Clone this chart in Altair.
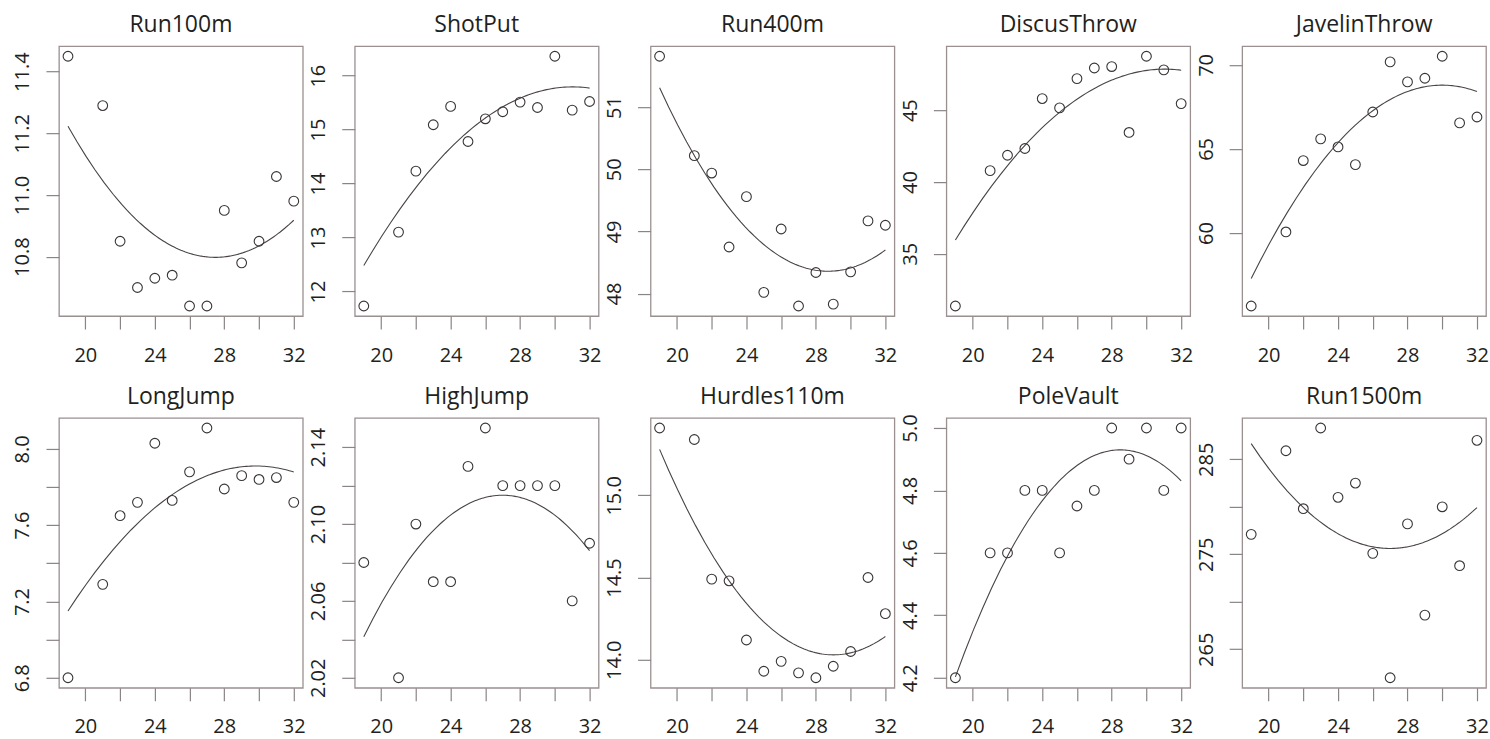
import altair as alt
import pandas as pd

ages = [19, 21, 22, 23, 24, 25, 26, 27, 28, 29, 30, 31, 32]

events = ["Run100m", "ShotPut", "Run400m", "DiscusThrow", "JavelinThrow",
          "LongJump", "HighJump", "Hurdles110m", "PoleVault", "Run1500m"]

# observed values (circles)
run100m = [11.45, 11.29, 10.85, 10.70, 10.73, 10.74, 10.64, 10.64, 10.95, 10.78, 10.85, 11.06, 10.98]
shotput = [11.73, 13.10, 14.23, 15.09, 15.43, 14.78, 15.20, 15.33, 15.51, 15.41, 16.36, 15.36, 15.52]
run400m = [51.82, 50.22, 49.94, 48.75, 49.56, 48.02, 49.04, 47.80, 48.34, 47.83, 48.35, 49.17, 49.10]
discus = [31.36, 40.79, 41.86, 42.33, 45.81, 45.16, 47.20, 47.94, 48.04, 43.45, 48.76, 47.81, 45.46]
javelin = [55.65, 60.06, 64.31, 65.60, 65.12, 64.07, 67.20, 70.18, 68.99, 69.21, 70.52, 66.55, 66.90]
longjump = [6.80, 7.29, 7.65, 7.72, 8.03, 7.73, 7.88, 8.11, 7.79, 7.86, 7.84, 7.85, 7.72]
highjump = [2.08, 2.02, 2.10, 2.07, 2.07, 2.13, 2.15, 2.12, 2.12, 2.12, 2.12, 2.06, 2.09]
hurdles = [15.41, 15.34, 14.49, 14.48, 14.12, 13.93, 13.99, 13.92, 13.89, 13.96, 14.05, 14.50, 14.28]
polevault = [4.20, 4.60, 4.60, 4.80, 4.80, 4.60, 4.75, 4.80, 5.00, 4.90, 5.00, 4.80, 5.00]
run1500m = [277.1, 285.9, 279.8, 288.3, 281.0, 282.5, 275.1, 262.0, 278.2, 268.6, 280.0, 273.8, 287.0]

series = [run100m, shotput, run400m, discus, javelin,
          longjump, highjump, hurdles, polevault, run1500m]

# fitted curve at these ages
curve_ages = [19, 21, 23, 25, 27, 29, 31, 32]
fit_run100m = [11.22, 11.05, 10.92, 10.83, 10.80, 10.81, 10.87, 10.92]
fit_shotput = [12.48, 13.49, 14.32, 14.96, 15.42, 15.70, 15.79, 15.77]
fit_run400m = [51.31, 50.22, 49.38, 48.79, 48.45, 48.36, 48.53, 48.70]
fit_discus = [35.95, 39.60, 42.50, 44.90, 46.50, 47.50, 47.85, 47.80]
fit_javelin = [57.28, 61.09, 64.14, 66.42, 67.94, 68.70, 68.70, 68.42]
fit_longjump = [7.15, 7.405, 7.61, 7.76, 7.86, 7.906, 7.90, 7.88]
fit_highjump = [2.041, 2.074, 2.097, 2.110, 2.115, 2.110, 2.097, 2.086]
fit_hurdles = [15.28, 14.83, 14.48, 14.23, 14.08, 14.03, 14.08, 14.14]
fit_polevault = [4.203, 4.477, 4.686, 4.831, 4.912, 4.928, 4.88, 4.83]
fit_run1500m = [286.65, 281.8, 278.4, 276.3, 275.6, 276.3, 278.4, 279.9]

fits = [fit_run100m, fit_shotput, fit_run400m, fit_discus, fit_javelin,
        fit_longjump, fit_highjump, fit_hurdles, fit_polevault, fit_run1500m]

# y-axis tick positions and which of them carry a label
y_ticks = [
    [10.8, 11.0, 11.2, 11.4],
    [12, 13, 14, 15, 16],
    [48, 49, 50, 51],
    [35, 40, 45],
    [60, 65, 70],
    [6.8, 7.0, 7.2, 7.4, 7.6, 7.8, 8.0],
    [2.02, 2.04, 2.06, 2.08, 2.10, 2.12, 2.14],
    [14.0, 14.5, 15.0],
    [4.2, 4.4, 4.6, 4.8, 5.0],
    [265, 270, 275, 280, 285],
]
y_labels = [
    [10.8, 11.0, 11.2, 11.4],
    [12, 13, 14, 15, 16],
    [48, 49, 50, 51],
    [35, 40, 45],
    [60, 65, 70],
    [6.8, 7.2, 7.6, 8.0],
    [2.02, 2.06, 2.10, 2.14],
    [14.0, 14.5, 15.0],
    [4.2, 4.4, 4.6, 4.8, 5.0],
    [265, 275, 285],
]
y_formats = [".1f", "d", "d", "d", "d", ".1f", ".2f", ".1f", ".1f", "d"]

x_ticks = [20, 22, 24, 26, 28, 30, 32]
x_labels = [20, 24, 28, 32]

# title gap above each frame (PoleVault's top tick label pokes above its frame)
title_offsets = [9, 9, 9, 9, 9, 9, 9, 9, 5, 9]

FONT = "Open Sans"
TEXT = "#231f20"
W, H = 244, 270


def panel(i):
    vals = series[i]
    df = pd.DataFrame({"age": ages, "value": vals})
    cdf = pd.DataFrame({"age": curve_ages, "value": fits[i]})
    lo, hi = min(vals), max(vals)
    pad = (hi - lo) * 0.04
    xlo, xhi = min(ages), max(ages)
    xpad = (xhi - xlo) * 0.04
    xscale = alt.Scale(domain=[xlo - xpad, xhi + xpad], nice=False, zero=False)
    yscale = alt.Scale(domain=[lo - pad, hi + pad], nice=False, zero=False)
    ylab = "[" + ",".join(repr(v) for v in y_labels[i]) + "]"
    xlab = "[" + ",".join(repr(v) for v in x_labels) + "]"
    xaxis = alt.Axis(values=x_ticks, title=None, labelFlush=False, labelOverlap=False,
                     labelExpr=f"indexof({xlab}, datum.value) >= 0 ? datum.label : ''",
                     labelPadding=16, grid=False, domain=False)
    yaxis = alt.Axis(values=y_ticks[i], title=None, format=y_formats[i],
                     labelAngle=270, labelAlign="center", labelBaseline="bottom",
                     labelPadding=13, labelOverlap=False, labelFlush=False,
                     grid=False, domain=False,
                     labelExpr=f"indexof({ylab}, datum.value) >= 0 ? datum.label : ''")
    fit = alt.Chart(cdf).transform_regression(
        "age", "value", method="poly", order=2, extent=[xlo, xhi]
    ).mark_line(color="#4a4444", strokeWidth=1.1, clip=True).encode(
        x=alt.X("age:Q", scale=xscale, axis=xaxis),
        y=alt.Y("value:Q", scale=yscale, axis=yaxis),
    )
    pts = alt.Chart(df).mark_point(shape="circle", filled=False, size=95, color="#3a3535",
                                   strokeWidth=1.1, opacity=1).encode(
        x=alt.X("age:Q", scale=xscale, axis=xaxis),
        y=alt.Y("value:Q", scale=yscale, axis=yaxis),
    )
    return alt.layer(fit, pts).properties(
        width=W, height=H,
        title=alt.TitleParams(events[i], fontSize=23, font=FONT, fontWeight="normal",
                              color=TEXT, offset=title_offsets[i], anchor="middle"),
    )


chart = alt.concat(
    *[panel(i) for i in range(10)], columns=5,
    spacing={"row": 102, "column": 52}, bounds="flush"
).properties(
    padding={"left": 12, "top": 13, "right": 0, "bottom": 0}
).configure_view(
    stroke="#9a9090", strokeWidth=1.3
).configure_axis(
    domain=False, grid=False, ticks=True, tickColor="#8a8585", tickSize=13, tickWidth=1.2,
    labelFont=FONT, labelFontSize=20, labelColor=TEXT
)

chart.save("out.html", embed_options={"renderer": "svg", "actions": False})
